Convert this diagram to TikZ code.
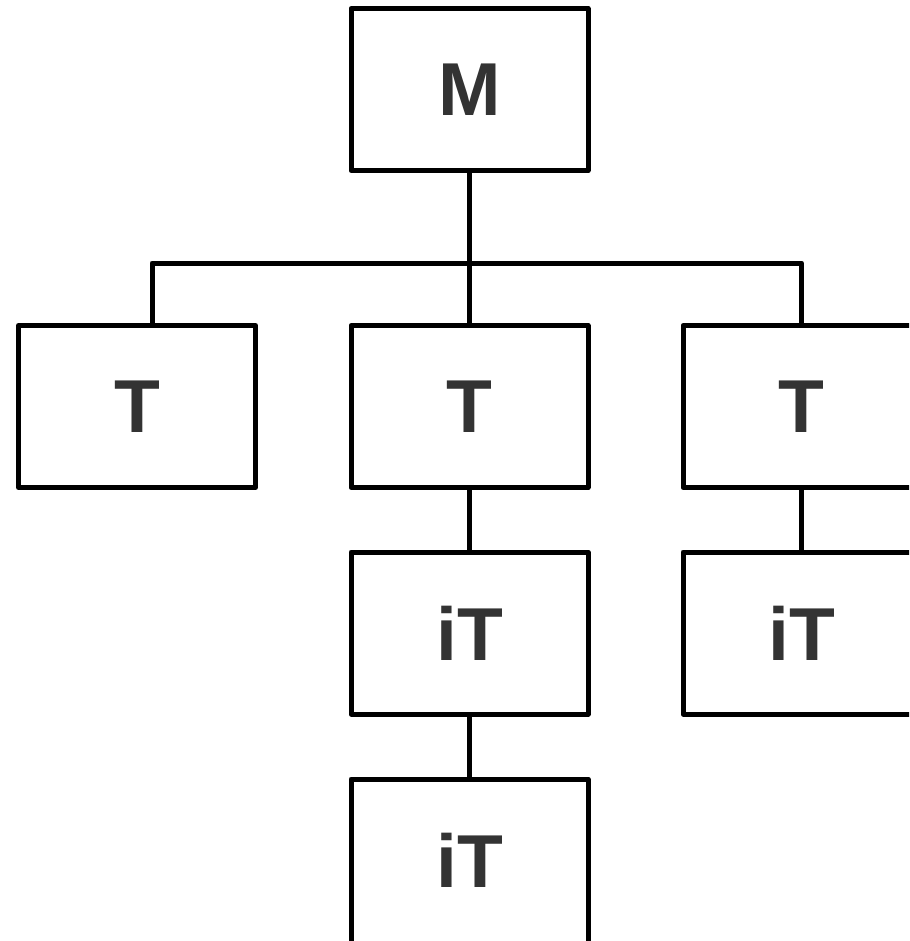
\documentclass[tikz,border=0pt]{standalone}
\usepackage{fontspec}
\setmainfont{Liberation Sans}
\definecolor{txt}{HTML}{333333}
\begin{document}
\begin{tikzpicture}[x=1pt,y=-1pt,
  box/.style={draw=black, line width=5pt, line join=round, minimum width=237pt, minimum height=162pt, inner sep=0pt, outer sep=0pt, font=\fontsize{75}{80}\selectfont\bfseries, text=txt},
  conn/.style={draw=black, line width=5pt, line join=round}]
\useasboundingbox (0,0) rectangle (909,941);
\clip (0,0) rectangle (909,941);
\fill[white] (0,0) rectangle (909,941);
\node[box] (m) at (469.5,89.5) {M};
\node[box] (t1) at (137,406.5) {T};
\node[box] (t2) at (469.5,406.5) {T};
\node[box] (t3) at (801.5,406.5) {T};
\node[box] (i2) at (469.5,633) {iT};
\node[box] (i3) at (801.5,633) {iT};
\node[box, draw=none] (i4) at (469.5,860) {iT};
\draw[conn] ([yshift=-20pt]i4.south west) -- (i4.north west) -- (i4.north east) -- ([yshift=-20pt]i4.south east);
\coordinate (l) at (152,263);
\draw[conn] (m.south) -- (t2.north);
\draw[conn] (l |- t1.north) -- (l) -| (t3.north);
\draw[conn] (t2.south) -- (i2.north);
\draw[conn] (i2.south) -- (i4.north);
\draw[conn] (t3.south) -- (i3.north);
\end{tikzpicture}
\end{document}
